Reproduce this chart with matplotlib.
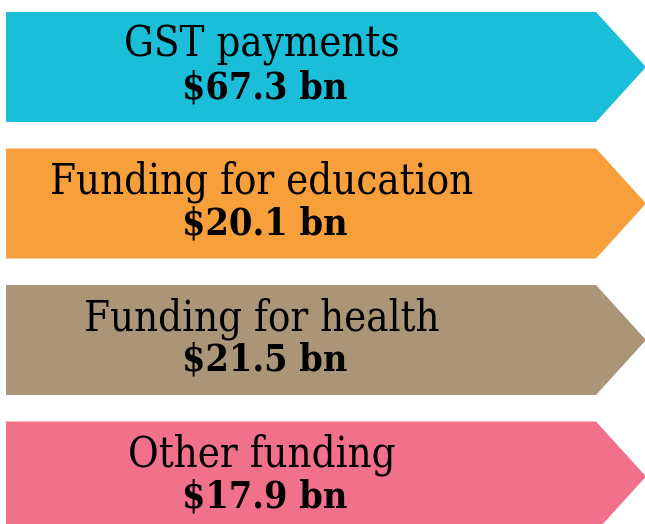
import matplotlib
matplotlib.use("Agg")
import matplotlib.pyplot as plt
from matplotlib.patches import Polygon

labels = ["GST payments", "Funding for education", "Funding for health", "Other funding"]
amounts = [67.3, 20.1, 21.5, 17.9]
colors = ["#1bbed8", "#f79f3b", "#ab9577", "#f1708a"]

W, H = 645, 524
fig = plt.figure(figsize=(6.45, 5.24), dpi=100)
ax = fig.add_axes([0, 0, 1, 1])
ax.set_xlim(0, W)
ax.set_ylim(H, 0)
ax.axis("off")

left, body_right, tip = 6, 596, 646
top0, box_h, step = 12, 110, 136.5

for i, (lab, amt, col) in enumerate(zip(labels, amounts, colors)):
    top = top0 + i * step
    bot = top + box_h
    mid = (top + bot) / 2
    pts = [(left, top), (body_right, top), (tip, mid), (body_right, bot), (left, bot)]
    ax.add_patch(Polygon(pts, closed=True, facecolor=col, edgecolor="none"))
    ax.text(262, mid - 10, lab, ha="center", va="baseline", fontsize=30,
            family="DejaVu Serif", stretch="condensed", color="black")
    ax.text(265, mid + 31, f"${amt} bn", ha="center", va="baseline", fontsize=27,
            family="DejaVu Serif", stretch="condensed", fontweight="bold", color="black")

fig.savefig("out.png", dpi=100)
